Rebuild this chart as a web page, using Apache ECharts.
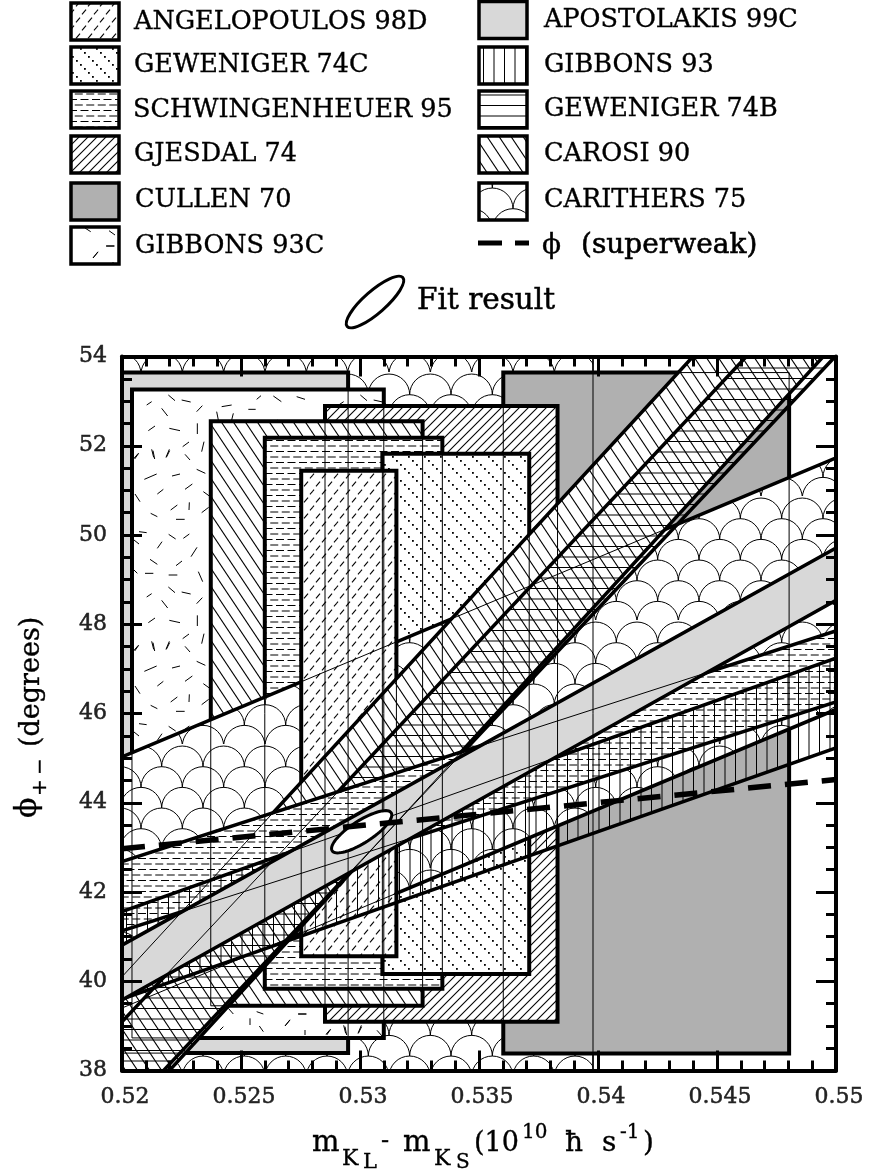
<!DOCTYPE html>
<html><head><meta charset="utf-8">
<style>html,body{margin:0;padding:0;background:#fff}#c{width:870px;height:1175px}</style>
<script src="https://cdn.jsdelivr.net/npm/echarts@6/dist/echarts.min.js"></script>
</head><body><div id="c"></div>
<script>
// ---------- data ----------
const X_MIN = 0.52, X_MAX = 0.55, Y_MIN = 38, Y_MAX = 54;
const BOX_NAMES = ['CARITHERS 75','APOSTOLAKIS 99C','CULLEN 70','GIBBONS 93C','GJESDAL 74','CAROSI 90','SCHWINGENHEUER 95','GEWENIGER 74C','ANGELOPOULOS 98D'];
const BOX_X0 = [0.5200,0.5200,0.53602,0.52042,0.52853,0.52373,0.52600,0.53094,0.52753];
const BOX_X1 = [0.53979,0.52950,0.54803,0.53100,0.53830,0.53263,0.53346,0.53711,0.53153];
const BOX_Y0 = [38.0,38.39,38.38,38.73,39.09,39.45,39.83,40.16,40.56];
const BOX_Y1 = [54.0,53.64,53.64,53.26,52.89,52.55,52.18,51.82,51.44];
const BAND_NAMES = ['CARITHERS 75','CAROSI 90','GEWENIGER 74B','SCHWINGENHEUER 95','GIBBONS 93','APOSTOLAKIS 99C'];
const BAND_LOW_AT_052  = [39.40,36.84,37.01,41.13,39.60,39.58];
const BAND_LOW_AT_055  = [46.09,54.31,54.02,46.26,45.23,48.54];
const BAND_HIGH_AT_052 = [45.03,40.10,39.09,42.68,41.56,40.81];
const BAND_HIGH_AT_055 = [51.73,57.48,56.14,47.85,47.24,49.71];
const SUPERWEAK_X = [0.52,0.55];
const SUPERWEAK_Y = [42.97,44.52];
const FIT_CENTER = [0.53007,43.35];
const FIT_MAJOR = [0.00124,0.426];
const FIT_MINOR = [0.000252,-0.207];
const X_TICKS = [0.52,0.525,0.53,0.535,0.54,0.545,0.55];
const Y_TICKS = [38,40,42,44,46,48,50,52,54];
const LEGEND_LEFT = ['ANGELOPOULOS 98D','GEWENIGER 74C','SCHWINGENHEUER 95','GJESDAL 74','CULLEN 70','GIBBONS 93C'];
const LEGEND_RIGHT = ['APOSTOLAKIS 99C','GIBBONS 93','GEWENIGER 74B','CAROSI 90','CARITHERS 75'];

// ---------- hatch tiles ----------
function tile(w,h,opaque,draw){
  const c=document.createElement('canvas');c.width=w;c.height=h;
  const g=c.getContext('2d');
  if(opaque){g.fillStyle='#fff';g.fillRect(0,0,w,h);}
  g.strokeStyle='#000';g.fillStyle='#000';g.lineWidth=1;
  draw(g,w,h);
  return {image:c,repeat:'repeat'};
}
function seg(g,a,b,c,d){g.beginPath();g.moveTo(a,b);g.lineTo(c,d);g.stroke();}
const SPECKS=[[140,195,155,185],[205,165,225,182],[245,180,272,186],[185,205,203,228],[290,215,307,197],[365,200,395,195],[445,208,467,208],[470,178,483,167],[520,168,544,185],[590,170,615,178],[350,215,355,240],[395,240,400,220],[145,272,165,258],[208,265,240,272],[292,250,292,282],[155,328,161,352],[198,352,208,328],[248,320,267,306],[255,343,270,360],[305,335,312,305],[102,355,115,340],[133,418,170,402],[216,408,240,402],[290,388,316,400],[172,462,190,448],[255,448,277,432],[105,462,120,485],[310,455,328,468],[212,510,232,495],[267,510,268,487],[305,518,326,502],[152,520,172,530],[228,538,254,538],[172,625,186,605],[206,583,227,597],[250,595,268,582],[273,650,291,622],[117,575,140,578],[102,600,117,612],[150,658,172,673],[228,677,246,663],[135,700,160,700],[206,705,232,705],[295,695,308,725],[102,690,112,700]];
const SPECKS_LOW=[[360,930,370,920],[450,895,450,915],[478,918,490,935],[555,918,570,900],[595,882,620,882],[470,875,490,882],[385,865,400,882],[615,930,615,945],[680,945,692,928],[735,920,740,945],[775,940,785,920]];
const SPECKS_KEY=[[85,36,90.7,39.7],[109,38.7,115,43],[106,54,114,54],[93,66,98,59.7]];
const PATTERN={
 'CARITHERS 75':tile(124,124,true,(g)=>{
   const r=124/6, ox=17, oy=22.7;
   for(let i=-1;i<8;i++){for(let j=-1;j<5;j++){
     const cx=ox+j*2*r+(i%2?r:0)+r, cy=oy+i*r+r;
     g.beginPath();g.arc(cx,cy,r,Math.PI,2*Math.PI);g.stroke();
   }}
 }),
 'APOSTOLAKIS 99C':'#d8d8d8',
 'CULLEN 70':'#b0b0b0',
 'GIBBONS 93C':tile(192,192,true,(g)=>{
   const put=(a,b,c,d)=>{
     const ox=-Math.floor(a/192)*192, oy=-Math.floor(b/192)*192;
     for(const dx of [0,-192,192])for(const dy of [0,-192,192])seg(g,a+ox+dx,b+oy+dy,c+ox+dx,d+oy+dy);
   };
   SPECKS.forEach(s=>put(100+s[0]/3,340+s[1]/3,100+s[2]/3,340+s[3]/3));
   SPECKS_LOW.forEach(s=>put(100+s[0]/3,720+s[1]/3,100+s[2]/3,720+s[3]/3));
   SPECKS_KEY.forEach(s=>put(s[0],s[1],s[2],s[3]));
 }),
 'GJESDAL 74':tile(9,9,true,(g)=>{g.lineWidth=1.1;seg(g,-2,11,11,-2);seg(g,-2,2,2,-2);seg(g,7,11,11,7);}),
 'CAROSI 90':tile(12,18,true,(g)=>{g.lineWidth=1.1;seg(g,-2,-3,14,21);seg(g,-14,-3,2,21);seg(g,10,-3,26,21);}),
 'SCHWINGENHEUER 95':tile(23,22,true,(g)=>{
   [0.5,6,11.5,17].forEach((y,i)=>{const o=i%2?5.75:0;
     seg(g,o,y,o+8,y);seg(g,o+11.5,y,o+19.5,y);seg(g,o-11.5,y,o-3.5,y);});
 }),
 'GEWENIGER 74C':tile(16,16,true,(g)=>{[0,4,8,12].forEach(p=>g.fillRect(p,p,1.8,1.8));}),
 'ANGELOPOULOS 98D':tile(24,16,true,(g)=>{
   g.lineWidth=1.1;
   [[6,4],[18,4],[0,12],[24,12],[12,12]].forEach(p=>seg(g,p[0]-2,p[1]+2.4,p[0]+2,p[1]-2.4));
 }),
 'GEWENIGER 74B':tile(10,21,false,(g)=>{seg(g,0,0.5,10,0.5);seg(g,0,11,10,11);}),
 'GIBBONS 93':tile(21,10,false,(g)=>{seg(g,0.5,0,0.5,10);seg(g,11,0,11,10);})
};
const BOX_LW=4, BAND_LW=3.5;

// ---------- series ----------
function boxSeries(i,thin){
  return {type:'custom',name:BOX_NAMES[i],coordinateSystem:'cartesian2d',clip:true,silent:true,animation:false,
    data:[[BOX_X0[i],BOX_Y0[i],BOX_X1[i],BOX_Y1[i]]],
    renderItem:(p,api)=>{
      const x0=api.value(0),y0=api.value(1),x1=api.value(2),y1=api.value(3);
      return {type:'polygon',shape:{points:[api.coord([x0,y0]),api.coord([x1,y0]),api.coord([x1,y1]),api.coord([x0,y1])]},
        style:thin?{fill:'none',stroke:'#000',lineWidth:1}:{fill:PATTERN[BOX_NAMES[i]],stroke:'#000',lineWidth:i===0?1.5:BOX_LW,lineJoin:'miter'}};
    }};
}
function bandSeries(i,thin){
  return {type:'custom',name:BAND_NAMES[i],coordinateSystem:'cartesian2d',clip:true,silent:true,animation:false,
    data:[[X_MIN,BAND_LOW_AT_052[i],X_MAX,BAND_LOW_AT_055[i],BAND_HIGH_AT_052[i],BAND_HIGH_AT_055[i]]],
    renderItem:(p,api)=>{
      const a=api.value(0),l0=api.value(1),b=api.value(2),l1=api.value(3),h0=api.value(4),h1=api.value(5);
      return {type:'polygon',shape:{points:[api.coord([a,l0]),api.coord([b,l1]),api.coord([b,h1]),api.coord([a,h0])]},
        style:thin?{fill:'none',stroke:'#000',lineWidth:1}:{fill:PATTERN[BAND_NAMES[i]],stroke:'#000',lineWidth:BAND_LW}};
    }};
}
const series=[];
[0,1,2,3,4,5,6,7].forEach(i=>series.push(boxSeries(i)));
series.push(bandSeries(0));   // Carithers band
series.push(boxSeries(8));    // Angelopoulos
[1,2,3,4,5].forEach(i=>series.push(bandSeries(i)));
BOX_NAMES.forEach((n,i)=>series.push(boxSeries(i,true)));
BAND_NAMES.forEach((n,i)=>series.push(bandSeries(i,true)));
series.push({type:'custom',name:'Fit result',coordinateSystem:'cartesian2d',clip:true,silent:true,animation:false,
  data:[[FIT_CENTER[0],FIT_CENTER[1]]],
  renderItem:(p,api)=>{
    const cx=api.value(0),cy=api.value(1),pts=[];
    for(let k=0;k<72;k++){const t=k/72*2*Math.PI;
      pts.push(api.coord([cx+FIT_MAJOR[0]*Math.cos(t)+FIT_MINOR[0]*Math.sin(t),cy+FIT_MAJOR[1]*Math.cos(t)+FIT_MINOR[1]*Math.sin(t)]));}
    return {type:'polygon',shape:{points:pts},style:{fill:'#fff',stroke:'#000',lineWidth:3}};
  }});
series.push({type:'line',name:'ϕ (superweak)',data:SUPERWEAK_X.map((x,i)=>[x,SUPERWEAK_Y[i]]),showSymbol:false,symbol:'none',animation:false,silent:true,clip:true,
  lineStyle:{color:'#000',width:5.5,type:[23,14]}});

// ---------- legend and titles (real text) ----------
const FF='"DejaVu Serif",serif';
const MID=0.28;
function txt(s,x,base,size,o){o=o||{};
  return {type:'text',z:100,x:x,y:base-MID*size,silent:true,style:{text:s,x:0,y:0,font:size+'px '+FF,fill:'#000',stroke:'#000',lineWidth:o.sw||0.35,align:'left',verticalAlign:'middle'}};}
function rtxt(s,baseX,startY,size){
  return {type:'text',z:100,x:baseX-MID*size,y:startY,rotation:Math.PI/2,silent:true,style:{text:s,x:0,y:0,font:size+'px '+FF,fill:'#000',stroke:'#000',lineWidth:0.35,align:'left',verticalAlign:'middle'}};}
function swatch(x,y,w,h,f){return {type:'rect',z:100,silent:true,shape:{x:x,y:y,width:w,height:h},style:{fill:f,stroke:'#000',lineWidth:3.5}};}
const G=[];
const LEG_TOP=[3,47,91,136,183,227], LEG_BASE=[30,73,118,162,208,254];
const LEG_TEXT_L=[134,134,133,134,135,135];
LEGEND_LEFT.forEach((n,i)=>{G.push(swatch(71,LEG_TOP[i],48,37,PATTERN[n]));G.push(txt(n,LEG_TEXT_L[i],LEG_BASE[i],25.5));});
const LEG_BASE_R=[28,73,117,162,208];
LEGEND_RIGHT.forEach((n,i)=>{G.push(swatch(479,i===0?1.5:LEG_TOP[i],48,37,PATTERN[n]));G.push(txt(n,544,LEG_BASE_R[i],25.5));});
G.push({type:'line',z:100,silent:true,shape:{x1:478,y1:243,x2:502,y2:243},style:{stroke:'#000',lineWidth:5}});
G.push({type:'line',z:100,silent:true,shape:{x1:515,y1:243,x2:529,y2:243},style:{stroke:'#000',lineWidth:5}});
G.push(txt('ϕ',542,254,28));
G.push(txt('(superweak)',581,254,28,{sw:0.6}));
G.push({type:'ellipse',z:100,silent:true,x:375,y:302,rotation:0.72,shape:{cx:0,cy:0,rx:37,ry:11},style:{fill:'#fff',stroke:'#000',lineWidth:3}});
G.push(txt('Fit result',417,310,29.5,{sw:0.5}));
// x title
[['m',312,1152,29],['K',342,1165,22],['L',363,1168,21],['-',381,1148,24],['m',403,1152,29],['K',434,1165,22],['S',456,1168,20],
 ['(10',474,1152,27],['10',522,1138,20],['ħ',565,1152,28],['s',602,1152,28],['-1',620,1138,20],[')',643,1152,28]]
 .forEach(a=>G.push(txt(a[0],a[1],a[2],a[3])));
// y title
G.push(rtxt('ϕ',37,818,30));
G.push(rtxt('+',46,796,20));
G.push(rtxt('−',46,775,20));
G.push(rtxt('(degrees)',40,747,27));

const AX_LINE={show:true,onZero:false,lineStyle:{color:'#000',width:4}};
const xCommon={type:'value',min:X_MIN,max:X_MAX,interval:0.005,splitLine:{show:false},axisLine:AX_LINE,z:50,
  axisTick:{show:true,inside:true,length:20,lineStyle:{color:'#000',width:3}},
  minorTick:{show:true,splitNumber:5,length:10,lineStyle:{color:'#000',width:3}},minorSplitLine:{show:false}};
const yCommon={type:'value',min:Y_MIN,max:Y_MAX,interval:2,splitLine:{show:false},axisLine:AX_LINE,z:50,
  axisTick:{show:true,inside:true,length:20,lineStyle:{color:'#000',width:3}},
  minorTick:{show:true,splitNumber:4,length:10,lineStyle:{color:'#000',width:3}},minorSplitLine:{show:false}};
const LABEL_STYLE={show:true,color:'#222',fontFamily:'"DejaVu Serif",serif',fontSize:22,textBorderColor:'#222',textBorderWidth:0.5};
const chart=echarts.init(document.getElementById('c'),null,{renderer:'canvas',width:870,height:1175});
chart.setOption({
  animation:false,backgroundColor:'#fff',
  grid:{left:122,right:34,top:356.5,bottom:104.5,containLabel:false},
  xAxis:[
    Object.assign({},xCommon,{position:'bottom',axisLabel:Object.assign({},LABEL_STYLE,{margin:16,padding:[0,0,0,6],
      formatter:v=>{const t=X_TICKS.find(q=>Math.abs(q-v)<1e-6);return t===undefined?'':String(t);}})}),
    Object.assign({},xCommon,{position:'top',axisLabel:{show:false}})
  ],
  yAxis:[
    Object.assign({},yCommon,{position:'left',axisLabel:Object.assign({},LABEL_STYLE,{margin:15,
      formatter:v=>{const t=Y_TICKS.find(q=>Math.abs(q-v)<1e-6);return t===undefined?'':String(t);}})}),
    Object.assign({},yCommon,{position:'right',axisLabel:{show:false}})
  ],
  graphic:G,
  series:series
});
</script></body></html>
